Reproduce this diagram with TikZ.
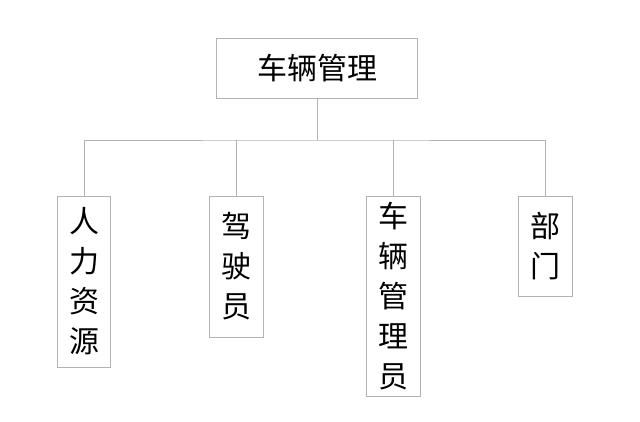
\documentclass[tikz,border=0pt]{standalone}
\usepackage{fontspec}
\newfontfamily\cjk{Noto Sans CJK SC}
\begin{document}
\begin{tikzpicture}[x=1pt,y=-1pt,
    box/.style={draw=gray!60, line width=0.8pt, font=\cjk\fontsize{30}{40}\selectfont, align=center, inner sep=0pt},
    link/.style={draw=gray!60, line width=0.8pt}]
    \useasboundingbox (0,0) rectangle (640,422);

    % the boxes
    \node[box, minimum width=201, minimum height=60] (top) at (317,68) {车辆管理};
    \node[box, minimum width=53, minimum height=171] (hr) at (84,281.5) {人\\力\\资\\源};
    \node[box, minimum width=54, minimum height=141] (drv) at (236,266.5) {驾\\驶\\员};
    \node[box, minimum width=54, minimum height=200] (mgr) at (393,296) {车\\辆\\管\\理\\员};
    \node[box, minimum width=54, minimum height=100] (dep) at (545,246) {部\\门};

    % the connectors
    \coordinate (bus) at (317,140);
    \draw[link] (top.south) -- (bus);
    \draw[link] (hr.north) |- (bus) -| (dep.north);
    \draw[link] (drv.north) -- (drv.north |- bus);
    \draw[link] (mgr.north) -- (mgr.north |- bus);

\end{tikzpicture}
\end{document}
